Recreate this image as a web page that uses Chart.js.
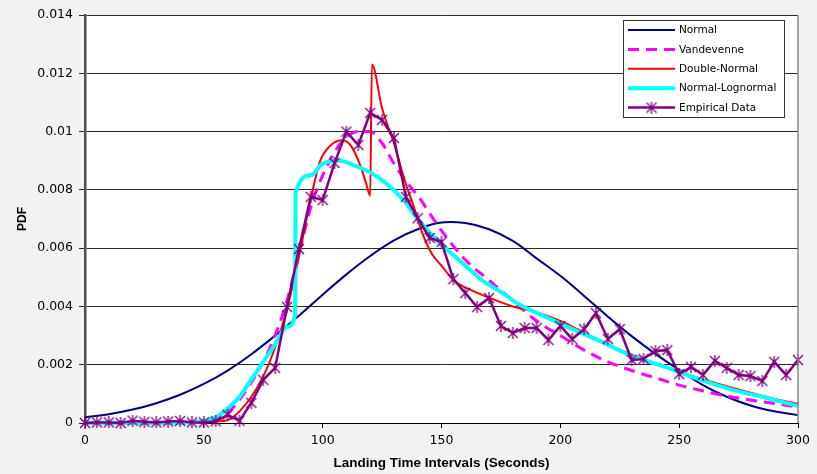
<!DOCTYPE html>
<html>
<head>
<meta charset="utf-8">
<script src="https://cdn.jsdelivr.net/npm/chart.js@4.4.1/dist/chart.umd.min.js"></script>
<style>
  body { margin: 0; background: #f2f2f2; }
  #c { display: block; }
</style>
</head>
<body>
<canvas id="c" width="817" height="474"></canvas>
<script>
'use strict';

// ---- values ----
const seriesNames = ['Normal', 'Vandevenne', 'Double-Normal', 'Normal-Lognormal', 'Empirical Data'];

const normalTimes = [0, 10, 20, 30, 40, 50, 60, 70, 80, 90, 100, 110, 120, 130, 140, 150,
  160, 170, 180, 190, 200, 210, 220, 230, 240, 250, 260, 270, 280, 290, 300];
const normalPdf = [0.00019, 0.0003, 0.00046, 0.00068, 0.00097, 0.00134, 0.0018, 0.00236, 0.003, 0.00368,
  0.0044, 0.0051, 0.00573, 0.00627, 0.00665, 0.00688, 0.00686, 0.00665, 0.00625, 0.00565,
  0.00505, 0.00436, 0.00365, 0.00298, 0.00237, 0.00182, 0.0013, 0.0009, 0.0006, 0.0004, 0.00027];

const vandevenneTimes = [0, 10, 20, 30, 40, 45, 50, 55, 60, 65, 70, 75, 80, 85, 90, 95, 100, 105, 110, 115,
  120, 125, 130, 135, 140, 145, 150, 160, 170, 180, 190, 200, 210, 220, 230, 240, 250, 260, 270, 280, 290, 300];
const vandevennePdf = [0, 0, 0, 0, 0.00001, 0.00002, 0.00005, 0.00012, 0.00034, 0.0008, 0.0014, 0.0021, 0.003, 0.0042,
  0.0058, 0.0074, 0.0085, 0.0093, 0.0098, 0.01, 0.01, 0.0096, 0.0089, 0.0083, 0.0078, 0.0072, 0.0066, 0.0056,
  0.0049, 0.0042, 0.0035, 0.003, 0.0025, 0.0021, 0.0018, 0.00155, 0.0013, 0.0011, 0.00092, 0.00079, 0.00067, 0.00055];

const doubleNormalTimes = [0, 10, 20, 30, 40, 50, 55, 60, 65, 70, 75, 80, 85, 90, 95, 99, 103, 108, 112, 116, 118,
  120, 120.7, 125, 130, 135, 138, 142, 146, 150, 155, 160, 170, 180, 190, 200, 210, 220, 230, 240, 250, 260, 270,
  280, 290, 300];
const doubleNormalPdf = [0, 0, 0, 0, 0, 0.00002, 0.00005, 0.0001, 0.0004, 0.0009, 0.0016, 0.0026, 0.0039, 0.0057,
  0.0077, 0.009, 0.0095, 0.0097, 0.0095, 0.0088, 0.0083, 0.0078, 0.0123, 0.0108, 0.0096, 0.0082, 0.0075, 0.0065,
  0.0058, 0.0054, 0.0049, 0.00465, 0.0043, 0.004, 0.0038, 0.0035, 0.0031, 0.0027, 0.00235, 0.00205, 0.00175,
  0.0015, 0.00126, 0.00104, 0.00083, 0.00065];

const lognormalTimes = [0, 10, 20, 30, 40, 45, 50, 55, 60, 65, 70, 75, 80, 85, 88.4, 88.6, 95, 100, 107, 113, 120,
  127, 134, 140, 146, 153, 160, 167, 175, 182, 195, 203, 217, 230, 245, 259, 273, 287, 300];
const lognormalPdf = [0.00001, 0.00001, 0.00001, 0.00001, 0.00001, 0.00003, 0.00008, 0.0002, 0.0005, 0.0009,
  0.0015, 0.0021, 0.0027, 0.0033, 0.0037, 0.0079, 0.0085, 0.0089, 0.009, 0.00885, 0.0086, 0.0082, 0.00765,
  0.007, 0.00645, 0.0059, 0.0054, 0.0049, 0.0045, 0.0041, 0.0036, 0.0033, 0.0028, 0.0023, 0.0019, 0.00148,
  0.00113, 0.00086, 0.00058];

const empiricalTimes = [0, 5, 10, 15, 20, 25, 30, 35, 40, 45, 50, 55, 60, 65, 70, 75, 80, 85, 90, 95, 100,
  105, 110, 115, 120, 125, 130, 135, 140, 145, 150, 155, 160, 165, 170, 175, 180, 185, 190, 195, 200,
  205, 210, 215, 220, 225, 230, 235, 240, 245, 250, 255, 260, 265, 270, 275, 280, 285, 290, 295, 300];
const empiricalPdf = [0, 0.00002, 0.00002, 0, 0.00008, 0.00004, 0.00002, 0.00005, 0.00007, 0.00002, 0.00002,
  0.00006, 0.00028, 0.00008, 0.00069, 0.00148, 0.00189, 0.00398, 0.00597, 0.00776, 0.00765,
  0.00892, 0.01, 0.00954, 0.01064, 0.0104, 0.00978, 0.00776, 0.00703, 0.00635, 0.00621,
  0.00494, 0.00446, 0.00398, 0.00429, 0.00333, 0.00309, 0.00326, 0.00326, 0.00285, 0.00333,
  0.00288, 0.00322, 0.00377, 0.00288, 0.00322, 0.00216, 0.0022, 0.00247, 0.0025, 0.00168,
  0.00192, 0.00165, 0.00213, 0.00189, 0.00165, 0.00161, 0.00144, 0.0021, 0.00165, 0.00216];

const xTicks = [0, 50, 100, 150, 200, 250, 300];
const yTicks = [0, 0.002, 0.004, 0.006, 0.008, 0.01, 0.012, 0.014];

// pair up x and y for the linear x axis
function toPoints(xs, ys) {
  return xs.map((x, i) => ({ x: x, y: ys[i] }));
}

// excel-like star marker: an X with a vertical stroke
function makeStar(color) {
  const c = document.createElement('canvas');
  c.width = 12;
  c.height = 12;
  const g = c.getContext('2d');
  g.strokeStyle = color;
  g.lineWidth = 1.3;
  g.beginPath();
  g.moveTo(1, 1); g.lineTo(11, 11);
  g.moveTo(11, 1); g.lineTo(1, 11);
  g.moveTo(6, 0); g.lineTo(6, 12);
  g.stroke();
  return c;
}
const star = makeStar('#800080');

const TICK_FONT = { family: 'DejaVu Sans', size: 12.5 };

// grey page, white plot, grey right border
const backdrop = {
  id: 'backdrop',
  beforeDraw(chart) {
    const ctx = chart.ctx;
    const a = chart.chartArea;
    ctx.save();
    ctx.fillStyle = '#f2f2f2';
    ctx.fillRect(0, 0, chart.width, chart.height);
    ctx.fillStyle = '#ffffff';
    ctx.fillRect(a.left, a.top, a.right - a.left, a.bottom - a.top);
    ctx.restore();
  },
  afterDraw(chart) {
    const ctx = chart.ctx;
    const a = chart.chartArea;
    ctx.save();
    ctx.strokeStyle = '#8a8a8a';
    ctx.lineWidth = 1.5;
    ctx.beginPath();
    ctx.moveTo(a.right, a.top);
    ctx.lineTo(a.right, a.bottom);
    ctx.stroke();
    ctx.restore();
  }
};

// legend box inside the plot, top right
const boxLegend = {
  id: 'boxLegend',
  afterDraw(chart) {
    const ctx = chart.ctx;
    const a = chart.chartArea;
    const w = 161, h = 97;
    const left = a.right - 14 - w;
    const top = a.top + 5;
    ctx.save();
    ctx.fillStyle = '#ffffff';
    ctx.fillRect(left, top, w, h);
    ctx.strokeStyle = '#333333';
    ctx.lineWidth = 1;
    ctx.strokeRect(left + 0.5, top + 0.5, w, h);
    ctx.font = '10.5px "DejaVu Sans"';
    ctx.textBaseline = 'middle';
    chart.data.datasets.forEach((ds, i) => {
      const y = top + 10 + i * 19.4;
      ctx.strokeStyle = ds.borderColor;
      ctx.lineWidth = ds.borderWidth;
      ctx.setLineDash(ds.borderDash || []);
      ctx.beginPath();
      ctx.moveTo(left + 5, y);
      ctx.lineTo(left + 52, y);
      ctx.stroke();
      ctx.setLineDash([]);
      if (ds.pointStyle === star) {
        ctx.drawImage(star, left + 28.5 - 6, y - 6);
      }
      ctx.fillStyle = '#000000';
      ctx.fillText(ds.label, left + 56, y + 0.5);
    });
    ctx.restore();
  }
};

const curve = {
  pointRadius: 0,
  fill: false,
  cubicInterpolationMode: 'monotone',
  clip: false
};

new Chart(document.getElementById('c'), {
  type: 'line',
  data: {
    datasets: [
      {
        label: seriesNames[0], data: toPoints(normalTimes, normalPdf),
        borderColor: '#000080', borderWidth: 2, order: 5,
        pointRadius: 0, fill: false, tension: 0.4, clip: false
      },
      Object.assign({}, curve, {
        label: seriesNames[1], data: toPoints(vandevenneTimes, vandevennePdf),
        borderColor: '#ff00ff', borderWidth: 3, borderDash: [11, 7], order: 4
      }),
      Object.assign({}, curve, {
        label: seriesNames[2], data: toPoints(doubleNormalTimes, doubleNormalPdf),
        borderColor: '#ff0000', borderWidth: 2, order: 3
      }),
      Object.assign({}, curve, {
        label: seriesNames[3], data: toPoints(lognormalTimes, lognormalPdf),
        borderColor: '#00ffff', borderWidth: 4, order: 2
      }),
      {
        label: seriesNames[4], data: toPoints(empiricalTimes, empiricalPdf),
        borderColor: '#800080', borderWidth: 2.5, tension: 0, fill: false, clip: false,
        pointStyle: star, pointRadius: 6, order: 1
      }
    ]
  },
  options: {
    responsive: false,
    animation: false,
    events: [],
    layout: { padding: { left: 0, right: 19, top: 15, bottom: 0 } },
    plugins: {
      legend: { display: false },
      tooltip: { enabled: false }
    },
    scales: {
      x: {
        type: 'linear',
        min: 0,
        max: 300,
        afterFit: s => { s.height = 51; },
        afterBuildTicks: s => { s.ticks = xTicks.map(v => ({ value: v })); },
        ticks: { color: '#000', font: TICK_FONT, padding: 5, maxRotation: 0, autoSkip: false },
        grid: { drawOnChartArea: false, drawTicks: true, tickLength: 5, color: '#000' },
        border: { color: '#000', width: 1 },
        title: {
          display: true,
          text: 'Landing Time Intervals (Seconds)',
          color: '#000',
          font: { family: 'Liberation Sans', size: 13.5, weight: 'bold' },
          padding: { top: 0, bottom: 3 }
        }
      },
      y: {
        min: 0,
        max: 0.014,
        afterFit: s => { s.width = 85; },
        afterBuildTicks: s => { s.ticks = yTicks.map(v => ({ value: v })); },
        ticks: {
          color: '#000', font: TICK_FONT, padding: 6,
          callback: v => Number(v.toFixed(3)).toString()
        },
        grid: { color: '#2a2a2a', lineWidth: 1, tickLength: 6 },
        border: { color: '#505050', width: 2.5 },
        title: {
          display: true,
          text: 'PDF',
          color: '#000',
          font: { family: 'Liberation Sans', size: 12, weight: 'bold' },
          padding: { top: 15, bottom: 0 }
        }
      }
    }
  },
  plugins: [backdrop, boxLegend]
});
</script>
</body>
</html>
